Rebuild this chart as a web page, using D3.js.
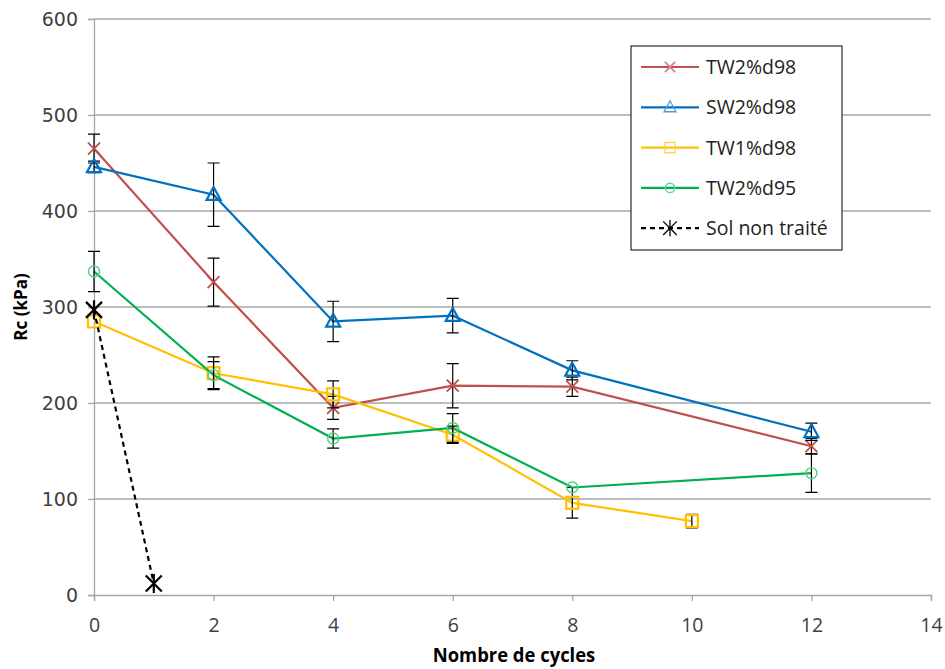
<!DOCTYPE html>
<html><head><meta charset="utf-8">
<script src="https://cdn.jsdelivr.net/npm/d3@7"></script>
<style>body{margin:0;background:#fff}svg{display:block}</style>
</head><body>
<script>
// ---- data ----
const xTicks = [0,2,4,6,8,10,12,14];
const yTicks = [0,100,200,300,400,500,600];
const seriesNames = ["TW2%d98","SW2%d98","TW1%d98","TW2%d95","Sol non traité"];
const cyclesTW2d98 = [0,2,4,6,8,12];
const valuesTW2d98 = [465,326,195,218,217,155];
const errorsTW2d98 = [15,25,12,23,10,8];
const cyclesSW2d98 = [0,2,4,6,8,12];
const valuesSW2d98 = [446,417,285,291,234,170];
const errorsSW2d98 = [6,33,21,18,10,9];
const cyclesTW1d98 = [0,2,4,6,8,10];
const valuesTW1d98 = [285,231,209,167,96,77];
const errorsTW1d98 = [0,17,14,9,16,7];
const cyclesTW2d95 = [0,2,4,6,8,12];
const valuesTW2d95 = [337,229,163,174,112,127];
const errorsTW2d95 = [21,14,10,15,0,20];
const cyclesSol = [0,1];
const valuesSol = [297,12];

const W=945,H=669;
const svg=d3.select("body").append("svg").attr("width",W).attr("height",H);
const x=d3.scaleLinear().domain([0,14]).range([94,931]);
const y=d3.scaleLinear().domain([0,600]).range([595,19]);

// gridlines
svg.append("g").selectAll("line").data(yTicks.filter(d=>d>0)).join("line")
 .attr("x1",x(0)).attr("x2",x(14)).attr("y1",d=>y(d)).attr("y2",d=>y(d))
 .attr("stroke","#a6a6a6").attr("stroke-width",1.3);

// axes
const gy=svg.append("g").attr("transform",`translate(${x(0)},0)`)
 .call(d3.axisLeft(y).tickValues(yTicks).tickSize(6).tickPadding(10));
const gx=svg.append("g").attr("transform",`translate(0,${y(0)})`)
 .call(d3.axisBottom(x).tickValues(xTicks).tickSize(6).tickPadding(17));
[gx,gy].forEach(g=>{g.select(".domain").attr("stroke","#a6a6a6").attr("stroke-width",1.3);
 g.selectAll(".tick line").attr("stroke","#a6a6a6").attr("stroke-width",1.3);});
gy.selectAll("text").attr("font-family","DejaVu Sans").attr("font-size",19).attr("fill","#404040");
gx.selectAll(".tick text").attr("font-family","Open Sans").attr("font-size",19.5).attr("fill","#404040");

// axis titles
svg.append("text").attr("transform",`translate(27,${y(300)}) rotate(-90)`).attr("text-anchor","middle")
 .attr("font-family","Open Sans").attr("font-weight","bold").attr("font-size",17).text("Rc (kPa)");
svg.append("text").attr("x",0).attr("y",0).attr("text-anchor","middle")
 .attr("font-family","Open Sans").attr("font-weight","bold").attr("font-size",19)
 .attr("transform","translate(514,662) scale(0.97,1)").text("Nombre de cycles");

const series=[
 {name:seriesNames[0],c:cyclesTW2d98,v:valuesTW2d98,e:errorsTW2d98,color:"#c0504d",mcolor:"#c0504d",marker:"x"},
 {name:seriesNames[1],c:cyclesSW2d98,v:valuesSW2d98,e:errorsSW2d98,color:"#0070c0",mcolor:"#0070c0",marker:"tri"},
 {name:seriesNames[2],c:cyclesTW1d98,v:valuesTW1d98,e:errorsTW1d98,color:"#ffc000",mcolor:"#ffc000",marker:"sq"},
 {name:seriesNames[3],c:cyclesTW2d95,v:valuesTW2d95,e:errorsTW2d95,color:"#00b050",mcolor:"#4fd080",marker:"circ"},
 {name:seriesNames[4],c:cyclesSol,v:valuesSol,e:null,color:"#000",mcolor:"#000",marker:"star",dash:"5,4"}
];

function drawMarker(g,type,cx,cy,color,scale){
 scale=scale||1;
 if(type==="x"){const s=6*scale;
  g.append("path").attr("d",`M${cx-s},${cy-s}L${cx+s},${cy+s}M${cx-s},${cy+s}L${cx+s},${cy-s}`)
   .attr("stroke",color).attr("stroke-width",1.8).attr("fill","none");}
 else if(type==="tri"){const s=7*scale;
  g.append("path").attr("d",`M${cx},${cy-s*1.1}L${cx+s},${cy+s*0.75}L${cx-s},${cy+s*0.75}Z`)
   .attr("stroke",color).attr("stroke-width",scale<1?1.3:2.2).attr("fill","none");}
 else if(type==="sq"){const s=6*scale;
  g.append("rect").attr("x",cx-s).attr("y",cy-s).attr("width",2*s).attr("height",2*s)
   .attr("stroke",color).attr("stroke-width",scale<1?1.3:2.2).attr("fill","none");}
 else if(type==="circ"){
  g.append("circle").attr("cx",cx).attr("cy",cy).attr("r",5.5*scale)
   .attr("stroke",color).attr("stroke-width",1.4).attr("fill","none");}
 else if(type==="star"){const s=8*scale;
  g.append("path").attr("d",`M${cx-s},${cy-s}L${cx+s},${cy+s}M${cx-s},${cy+s}L${cx+s},${cy-s}M${cx},${cy-s*1.2}L${cx},${cy+s*1.2}`)
   .attr("stroke",color).attr("stroke-width",scale<1?1.3:2.2).attr("fill","none");}
}

const line=d3.line().x(d=>x(d[0])).y(d=>y(d[1]));
series.forEach(s=>{
 const g=svg.append("g");
 const pts=s.c.map((c,i)=>[c,s.v[i]]);
 g.append("path").attr("d",line(pts)).attr("fill","none").attr("stroke",s.color)
  .attr("stroke-width",2.2).attr("stroke-dasharray",s.dash||null);
 if(s.e){
  s.c.forEach((c,i)=>{const e=s.e[i]; if(!e) return;
   const cx=x(c),y1=y(s.v[i]+e),y2=y(s.v[i]-e);
   g.append("path").attr("d",`M${cx},${y1}L${cx},${y2}M${cx-6},${y1}L${cx+6},${y1}M${cx-6},${y2}L${cx+6},${y2}`)
    .attr("stroke","#000").attr("stroke-width",1.2).attr("fill","none");});
 }
 pts.forEach(p=>drawMarker(g,s.marker,x(p[0]),y(p[1]),s.mcolor));
});

// legend
const lg=svg.append("g");
lg.append("rect").attr("x",631).attr("y",46).attr("width",211).attr("height",204)
 .attr("fill","#fff").attr("stroke","#000").attr("stroke-width",1);
series.forEach((s,i)=>{
 const ly=67+i*40.3;
 lg.append("line").attr("x1",641).attr("x2",699).attr("y1",ly).attr("y2",ly)
  .attr("stroke",s.color).attr("stroke-width",2.2).attr("stroke-dasharray",s.dash||null);
 const lc=s.marker==="x"?"#d9827f":s.marker==="tri"?"#4a9ee0":s.marker==="sq"?"#ffd24d":s.marker==="circ"?"#5fd88c":"#000";
 drawMarker(lg,s.marker,670,ly,lc,0.85);
 lg.append("text").attr("x",706).attr("y",ly).attr("dy","0.36em").attr("font-family","Open Sans")
  .attr("font-size",19.5).attr("fill","#222").text(s.name);
});
</script>
</body></html>
